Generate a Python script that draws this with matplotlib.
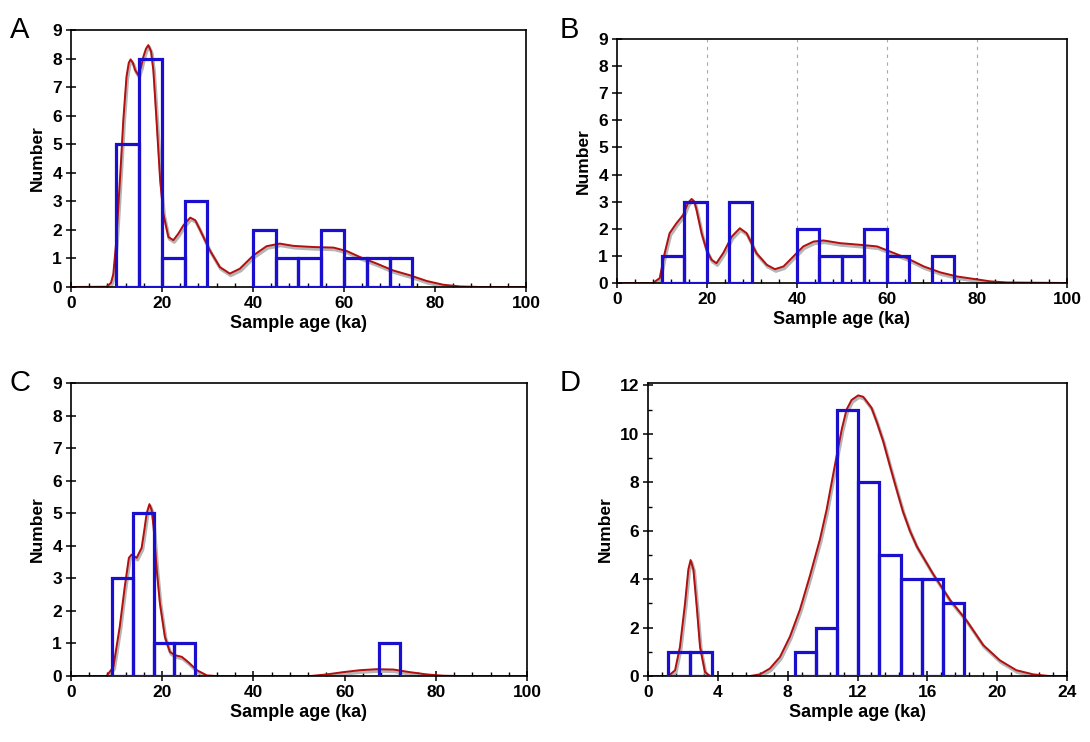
import numpy as np
import matplotlib.pyplot as plt
import matplotlib.transforms as mtransforms
from matplotlib.ticker import MultipleLocator

plt.rcParams['font.family'] = ['Liberation Sans', 'DejaVu Sans']

# ---- histogram bins (edges) and counts ----
a_edges = [10, 15, 20, 25, 30, 35, 40, 45, 50, 55, 60, 65, 70, 75]
a_counts = [5, 8, 1, 3, 0, 0, 2, 1, 1, 2, 1, 1, 1]

b_edges = [10, 15, 20, 25, 30, 35, 40, 45, 50, 55, 60, 65, 70, 75]
b_counts = [1, 3, 0, 3, 0, 0, 2, 1, 1, 2, 1, 0, 1]

c_edges = [8.9, 13.5, 18.1, 22.7, 27.2]
c_counts = [3, 5, 1, 1]
c2_edges = [67.6, 72.2]
c2_counts = [1]

d_edges = [1.15, 2.4, 3.65]
d_counts = [1, 1]
d2_edges = [8.4, 9.6, 10.85, 12.05, 13.25, 14.5, 15.7, 16.9, 18.1]
d2_counts = [1, 2, 11, 8, 5, 4, 4, 3]

# ---- probability density curves ----
a_cx = [0, 7.8, 8.2, 8.8, 9.3, 9.9, 10.4, 11.0, 11.5, 12.2, 12.7, 13.1, 13.6, 14.1, 14.8,
        15.4, 15.9, 16.5, 17.0, 17.6, 18.1, 18.8, 19.6, 20.3, 21.4, 22.5, 23.6, 24.7,
        26.2, 27.3, 28.4, 30.5, 32.7, 34.9, 37.1, 40.1, 43.0, 45.9, 48.9, 53.3, 57.7,
        60.6, 63.5, 67.2, 70.8, 74.5, 78.2, 81.8, 85.5, 90, 100]
a_cy = [0, 0.01, 0.06, 0.15, 0.45, 1.5, 2.8, 4.4, 5.84, 7.36, 7.85, 7.97, 7.85, 7.6, 7.42,
        7.7, 8.06, 8.35, 8.47, 8.25, 7.6, 5.84, 3.74, 2.57, 1.75, 1.64, 1.87, 2.16,
        2.43, 2.34, 1.99, 1.29, 0.70, 0.47, 0.64, 1.11, 1.43, 1.52, 1.44, 1.40, 1.38,
        1.26, 1.05, 0.82, 0.58, 0.41, 0.21, 0.08, 0.02, 0, 0]

b_cx = [0, 8.0, 9.5, 10.6, 11.7, 13.2, 14.7, 15.8, 16.6, 17.2, 17.7, 18.8, 19.9, 21.0,
        22.1, 23.6, 25.5, 27.3, 28.8, 31.0, 33.3, 35.1, 37.0, 39.2, 41.4, 43.7, 45.9,
        49.6, 54.0, 57.8, 60.7, 64.4, 68.2, 71.9, 75.6, 79.3, 83.0, 86.7, 100]
b_cy = [0, 0, 0.18, 1.1, 1.84, 2.2, 2.51, 2.96, 3.1, 3.0, 2.69, 1.84, 1.22, 0.86,
        0.73, 1.1, 1.71, 2.02, 1.84, 1.1, 0.67, 0.51, 0.61, 0.98, 1.35, 1.53, 1.57,
        1.47, 1.41, 1.35, 1.16, 0.92, 0.61, 0.39, 0.24, 0.15, 0.06, 0.02, 0]

c_cx = [0, 7.8, 9.3, 10.7, 11.8, 12.7, 13.3, 14.4, 15.5, 16.1, 16.6, 17.2, 17.7, 18.1,
        18.8, 19.5, 20.6, 21.7, 22.8, 24.3, 25.7, 27.6, 29.8, 31.9, 52.4, 56.1, 59.7,
        63.4, 67.0, 70.7, 74.3, 78.0, 81.7, 85.3, 100]
c_cy = [0, 0, 0.28, 1.52, 2.75, 3.63, 3.73, 3.63, 3.94, 4.5, 5.0, 5.28, 5.1, 4.6,
        3.27, 2.24, 1.2, 0.74, 0.64, 0.59, 0.43, 0.18, 0.02, 0, 0, 0.05, 0.12,
        0.18, 0.21, 0.20, 0.12, 0.05, 0.01, 0, 0]

d_cx = [0, 1.16, 1.55, 1.83, 2.12, 2.31, 2.44, 2.6, 2.79, 2.98, 3.26, 3.55, 5.84, 6.41,
        6.98, 7.56, 8.13, 8.7, 9.27, 9.85, 10.23, 10.8, 11.1, 11.37, 11.66, 12.04, 12.33,
        12.8, 13.1, 13.47, 13.85, 14.24, 14.6, 15.0, 15.4, 16.3, 17.3, 18.24, 19.2, 20.15,
        21.1, 22.06, 23.0, 24]
d_cy = [0, 0, 0.24, 1.21, 3.0, 4.4, 4.79, 4.4, 2.88, 1.21, 0.17, 0, 0, 0.07,
        0.31, 0.79, 1.63, 2.74, 4.13, 5.65, 6.87, 9.08, 10.2, 11.0, 11.4, 11.59, 11.53,
        11.08, 10.5, 9.7, 8.7, 7.7, 6.8, 6.0, 5.35, 4.25, 3.14, 2.3, 1.28, 0.65,
        0.24, 0.07, 0, 0]

BLUE = '#1a0fcc'
RED = '#b30f0f'

fig = plt.figure(figsize=(10.9, 7.42), dpi=100)


def draw_bars(ax, edges, counts):
    for i, n in enumerate(counts):
        if n == 0:
            continue
        ax.bar(edges[i], n, width=edges[i + 1] - edges[i], align='edge',
               facecolor='none', edgecolor=BLUE, linewidth=2.3, zorder=3)


def draw_curve(ax, x, y):
    shadow = mtransforms.offset_copy(ax.transData, fig=fig, x=1.0, y=-2.0, units='dots')
    ax.plot(x, y, color='#b5b5b5', lw=2.4, transform=shadow, zorder=2,
            solid_capstyle='round', solid_joinstyle='round')
    ax.plot(x, y, color=RED, lw=1.4, zorder=2.5, solid_joinstyle='round')


def style(ax, xmax, ymax, xmaj, xmin, ymaj, ymin=None):
    ax.set_xlim(0, xmax)
    ax.set_ylim(0, ymax)
    ax.xaxis.set_major_locator(MultipleLocator(xmaj))
    ax.xaxis.set_minor_locator(MultipleLocator(xmin))
    ax.yaxis.set_major_locator(MultipleLocator(ymaj))
    if ymin:
        ax.yaxis.set_minor_locator(MultipleLocator(ymin))
    ax.tick_params(which='major', direction='inout', length=7, width=1.1,
                   labelsize=12.5, pad=3)
    ax.tick_params(which='minor', direction='in', length=3, width=1.0)
    for lab in ax.get_xticklabels() + ax.get_yticklabels():
        lab.set_fontweight('bold')
    for s in ax.spines.values():
        s.set_linewidth(1.2)
    ax.set_xlabel('Sample age (ka)', fontsize=13, fontweight='bold', labelpad=3)
    ax.set_ylabel('Number', fontsize=12.5, fontweight='bold', labelpad=5)


axA = fig.add_axes([0.0651, 0.6132, 0.4175, 0.3464])
draw_curve(axA, a_cx, a_cy)
draw_bars(axA, a_edges, a_counts)
style(axA, 100, 9, 20, 4, 1)

axB = fig.add_axes([0.566, 0.6186, 0.4129, 0.3288])
for gx in [20, 40, 60, 80]:
    axB.axvline(gx, color='#a8a8a8', lw=0.8, ls=(0, (3, 4)), zorder=1)
draw_curve(axB, b_cx, b_cy)
draw_bars(axB, b_edges, b_counts)
style(axB, 100, 9, 20, 4, 1)

axC = fig.add_axes([0.0651, 0.0889, 0.4184, 0.3949])
draw_curve(axC, c_cx, c_cy)
draw_bars(axC, c_edges, c_counts)
draw_bars(axC, c2_edges, c2_counts)
style(axC, 100, 9, 20, 4, 1)

axD = fig.add_axes([0.5945, 0.0889, 0.3844, 0.3949])
draw_curve(axD, d_cx, d_cy)
draw_bars(axD, d_edges, d_counts)
draw_bars(axD, d2_edges, d2_counts)
style(axD, 24, 12.1, 4, 0.8, 2, 1)

for lbl, x, y in [('A', 0.009, 0.978), ('B', 0.513, 0.978),
                  ('C', 0.009, 0.503), ('D', 0.513, 0.503)]:
    fig.text(x, y, lbl, fontsize=21, va='top', ha='left')

fig.savefig('out.png', dpi=100)
